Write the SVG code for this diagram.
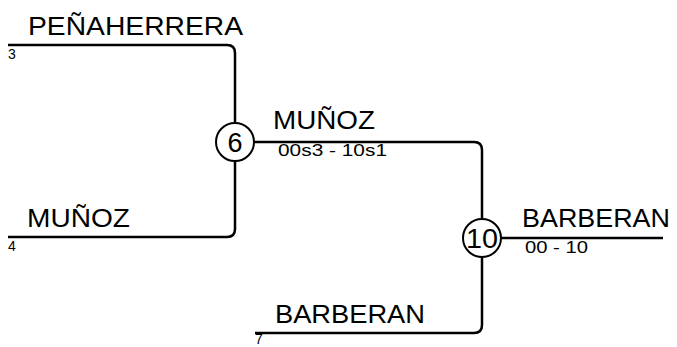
<svg xmlns="http://www.w3.org/2000/svg" width="677" height="347" viewBox="0 0 677 347">
<style>
.ln{fill:none;stroke:#000;stroke-width:2.5}
.nd{fill:#fff;stroke:#000;stroke-width:2}
.nm{font-family:"Liberation Sans",Arial,sans-serif;font-size:26px;fill:#000}
.sc{font-family:"Liberation Sans",Arial,sans-serif;font-size:17px;fill:#000}
.sd{font-family:"Liberation Sans",Arial,sans-serif;font-size:14px;fill:#000}
.cn{font-family:"Liberation Sans",Arial,sans-serif;font-size:27px;fill:#000;text-anchor:middle}
</style>
<rect width="677" height="347" fill="#fff"/>
<g id="connectors">
<path class="ln" d="M8 45 H227 Q235 45 235 53 V142"/>
<path class="ln" d="M8 237 H227 Q235 237 235 229 V142"/>
<path class="ln" d="M235 142 H474 Q482 142 482 150 V238"/>
<path class="ln" d="M255 333 H474 Q482 333 482 325 V238"/>
<path class="ln" d="M482 238 H663"/>
</g>
<g id="p3">
<text class="nm" x="28" y="35" textLength="215" lengthAdjust="spacingAndGlyphs">PEÑAHERRERA</text>
<text class="sd" x="8" y="59">3</text>
</g>
<g id="p4">
<text class="nm" x="27" y="227" textLength="103" lengthAdjust="spacingAndGlyphs">MUÑOZ</text>
<text class="sd" x="8" y="251">4</text>
</g>
<g id="p7">
<text class="nm" x="275" y="323" textLength="150" lengthAdjust="spacingAndGlyphs">BARBERAN</text>
<text class="sd" x="255" y="344">7</text>
</g>
<g id="m6">
<circle class="nd" cx="235" cy="142" r="19"/>
<text class="cn" x="235" y="152">6</text>
<text class="nm" x="273" y="129" textLength="102" lengthAdjust="spacingAndGlyphs">MUÑOZ</text>
<text class="sc" x="278" y="156" textLength="109" lengthAdjust="spacingAndGlyphs">00s3 - 10s1</text>
</g>
<g id="m10">
<circle class="nd" cx="482" cy="238" r="19"/>
<text class="cn" x="482" y="248" textLength="32" lengthAdjust="spacingAndGlyphs">10</text>
<text class="nm" x="522" y="227" textLength="148" lengthAdjust="spacingAndGlyphs">BARBERAN</text>
<text class="sc" x="525" y="253" textLength="63" lengthAdjust="spacingAndGlyphs">00 - 10</text>
</g>
</svg>
